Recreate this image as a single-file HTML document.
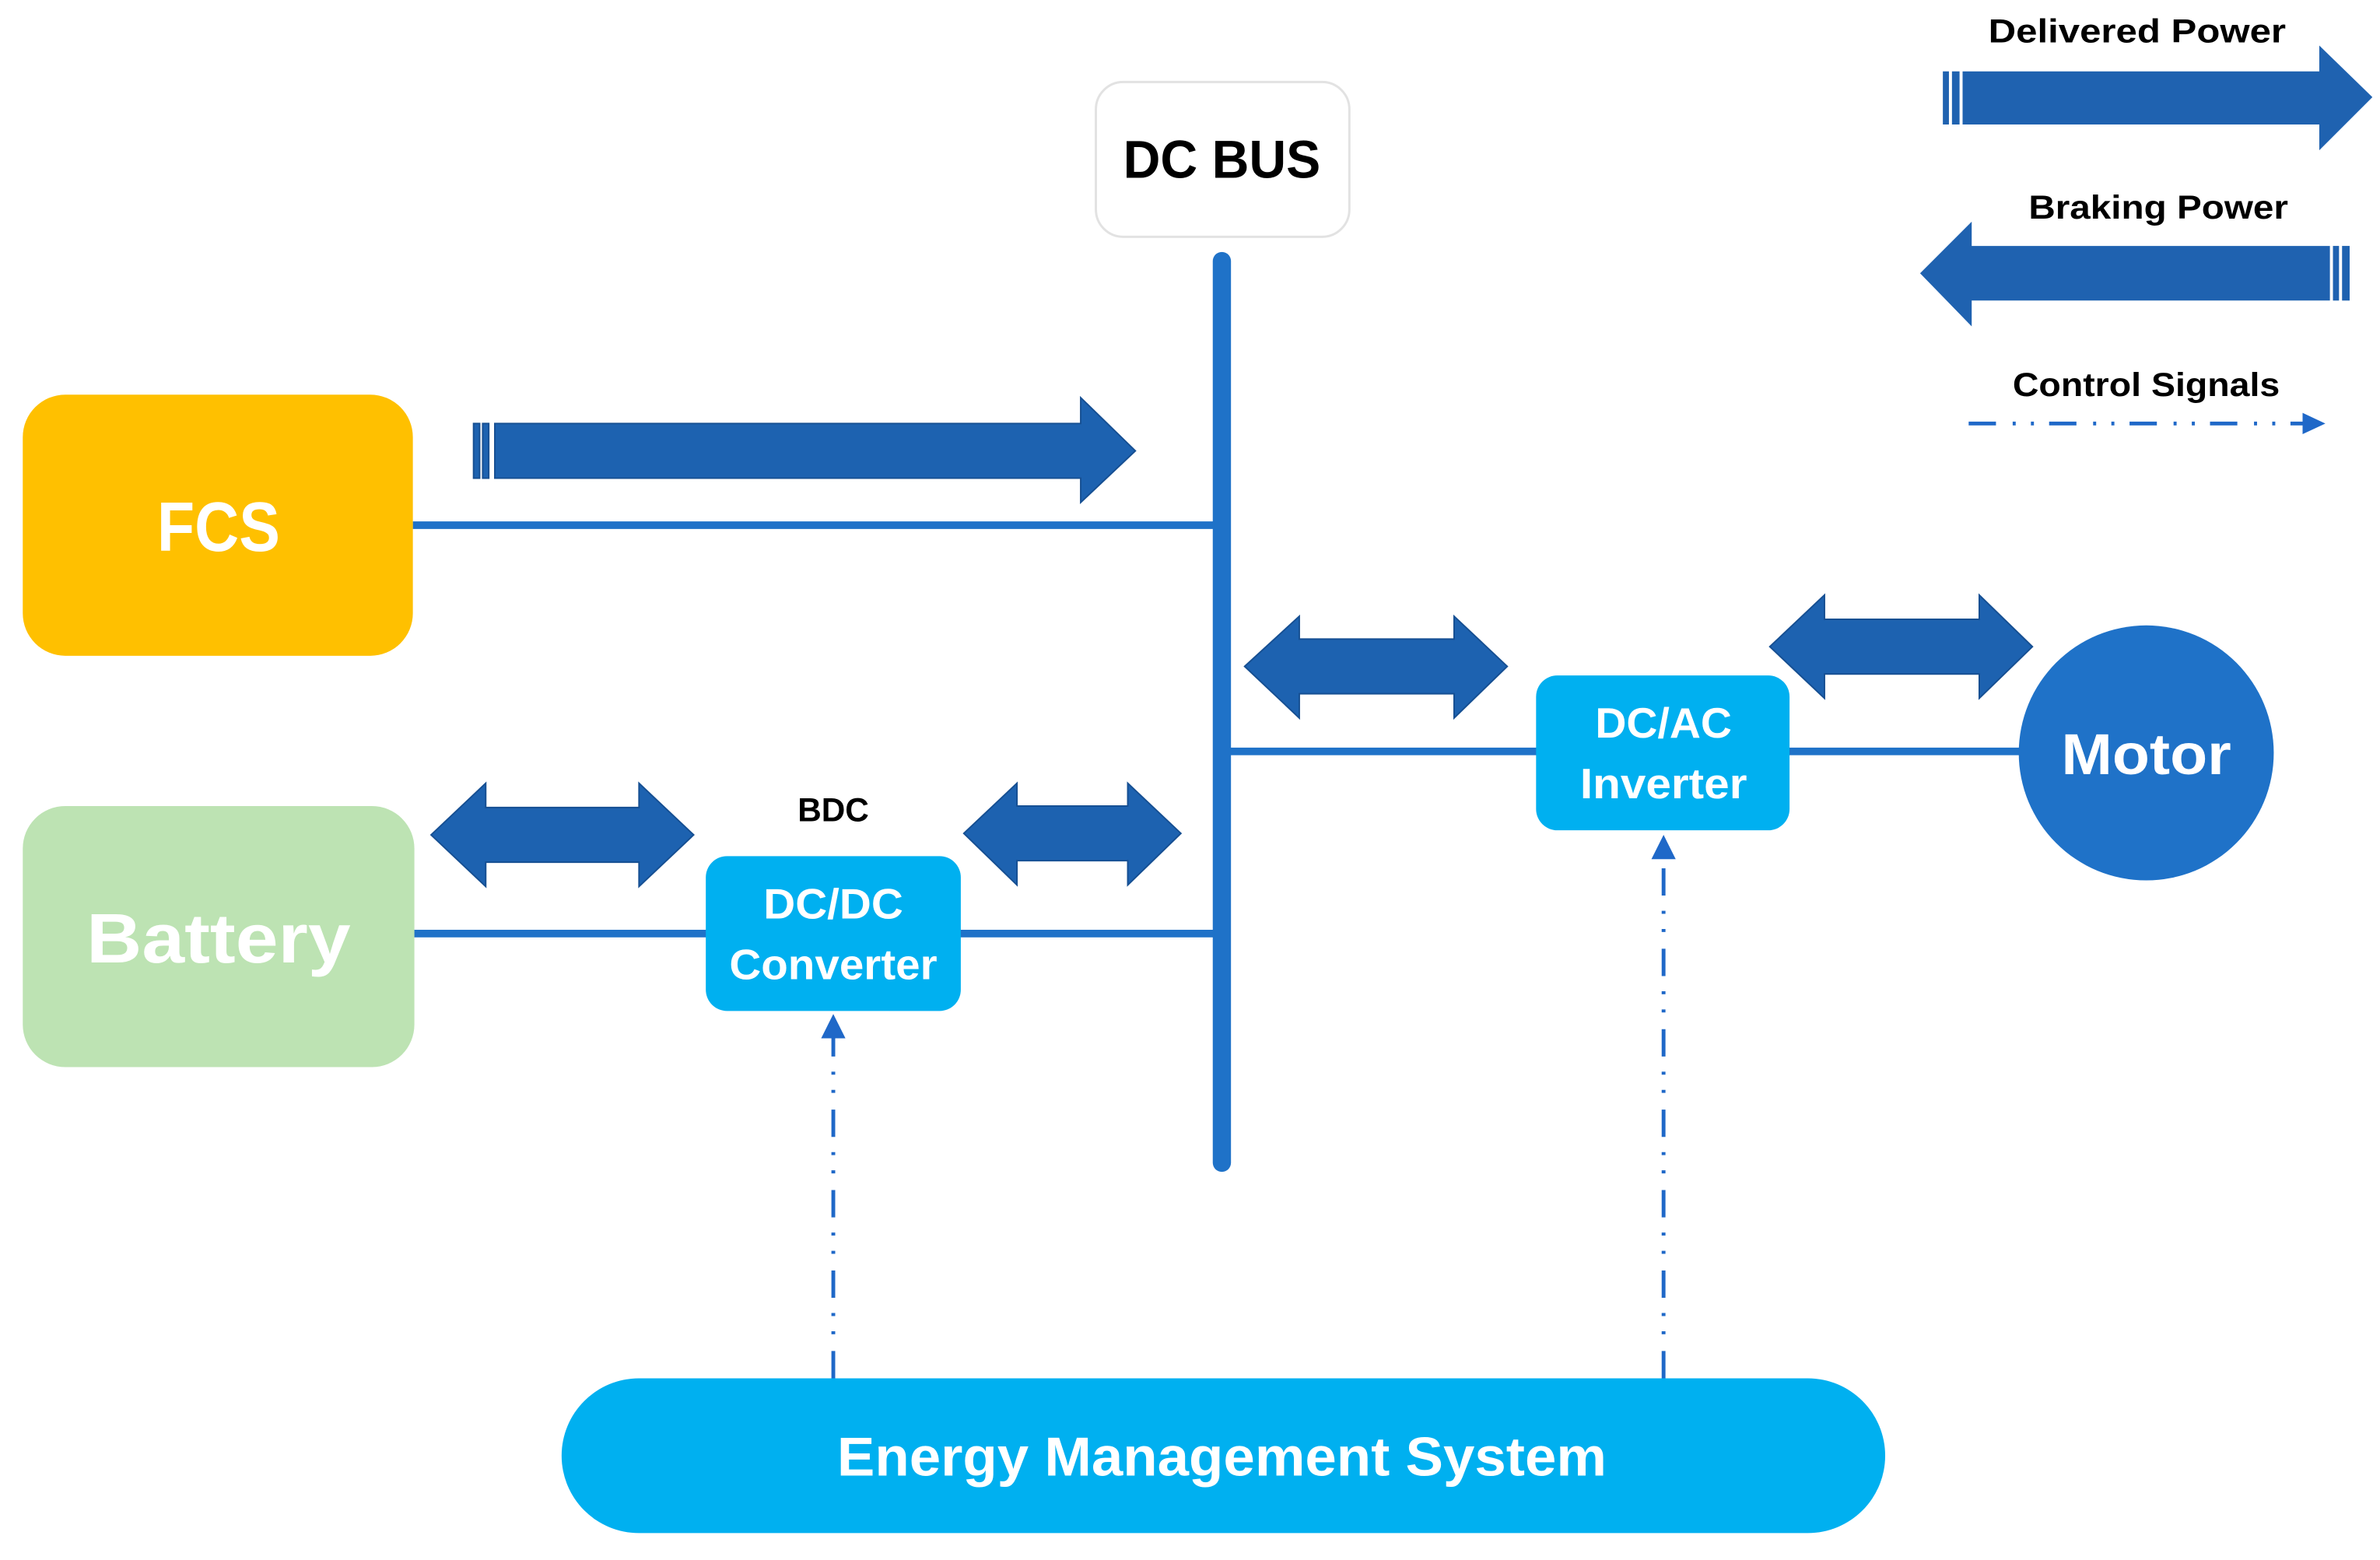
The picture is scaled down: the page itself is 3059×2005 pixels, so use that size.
<!DOCTYPE html>
<html><head><meta charset="utf-8"><style>
html,body{margin:0;padding:0;background:#fff;}
svg{display:block;}
text{font-family:"Liberation Sans",sans-serif;font-weight:bold;}
</style></head><body>
<svg width="3059" height="2005" viewBox="0 0 1568 1027.7" xmlns="http://www.w3.org/2000/svg">
<rect width="1568" height="1028" fill="#fff"/>
<!-- DC BUS -->
<rect x="722" y="54" width="167" height="102" rx="18" fill="#fff" stroke="#e2e2e2" stroke-width="1.5"/>
<text x="805" y="117" font-size="35" text-anchor="middle" fill="#000" textLength="130" lengthAdjust="spacingAndGlyphs">DC BUS</text>
<!-- bus -->
<line x1="805" y1="172" x2="805" y2="766" stroke="#1f72c8" stroke-width="12" stroke-linecap="round"/>
<!-- lines -->
<line x1="272" y1="346" x2="800" y2="346" stroke="#1f72c8" stroke-width="5"/>
<line x1="272" y1="615" x2="800" y2="615" stroke="#1f72c8" stroke-width="5"/>
<line x1="810" y1="495" x2="1335" y2="495" stroke="#1f72c8" stroke-width="5"/>
<!-- FCS -->
<rect x="15" y="260" width="257" height="172" rx="28" fill="#ffc000"/>
<text x="144" y="363" font-size="46" text-anchor="middle" fill="#fff" textLength="81" lengthAdjust="spacingAndGlyphs">FCS</text>
<!-- Battery -->
<rect x="15" y="531" width="258" height="172" rx="28" fill="#bde3b3"/>
<text x="144" y="634" font-size="46" text-anchor="middle" fill="#fff" textLength="174" lengthAdjust="spacingAndGlyphs">Battery</text>
<!-- BDC -->
<text x="549" y="541" font-size="22" text-anchor="middle" fill="#000" textLength="47" lengthAdjust="spacingAndGlyphs">BDC</text>
<rect x="465" y="564" width="168" height="102" rx="14" fill="#00b0f0"/>
<text x="549" y="605" font-size="28" text-anchor="middle" fill="#fff" textLength="92" lengthAdjust="spacingAndGlyphs">DC/DC</text>
<text x="549" y="645" font-size="28" text-anchor="middle" fill="#fff" textLength="137" lengthAdjust="spacingAndGlyphs">Converter</text>
<!-- inverter -->
<rect x="1012" y="445" width="167" height="102" rx="14" fill="#00b0f0"/>
<text x="1096" y="486" font-size="28" text-anchor="middle" fill="#fff" textLength="90" lengthAdjust="spacingAndGlyphs">DC/AC</text>
<text x="1096" y="526" font-size="28" text-anchor="middle" fill="#fff" textLength="110" lengthAdjust="spacingAndGlyphs">Inverter</text>
<!-- motor -->
<circle cx="1414" cy="496" r="84" fill="#1f72c8"/>
<text x="1414" y="510" font-size="38" text-anchor="middle" fill="#fff" textLength="112" lengthAdjust="spacingAndGlyphs">Motor</text>
<!-- EMS -->
<rect x="370" y="908" width="872" height="102" rx="51" fill="#00b0f0"/>
<text x="805" y="972" font-size="36" text-anchor="middle" fill="#fff" textLength="507" lengthAdjust="spacingAndGlyphs">Energy Management System</text>
<!-- FCS arrow -->
<g fill="#1d62b0" stroke="#164f92" stroke-width="1">
<rect x="312" y="279" width="4" height="36"/>
<rect x="318" y="279" width="4" height="36"/>
<polygon points="326,279 712,279 712,262 748,297 712,331 712,315 326,315"/>
</g>
<!-- double arrows -->
<g fill="#1d62b0" stroke="#164f92" stroke-width="1">
<polygon points="284,550 320,516 320,532 421,532 421,516 457,550 421,584 421,568 320,568 320,584"/>
<polygon points="635,549 670,516 670,531 743,531 743,516 778,549 743,583 743,567 670,567 670,583"/>
<polygon points="820,439 856,406 856,421 958,421 958,406 993,439 958,473 958,457 856,457 856,473"/>
<polygon points="1166,426 1202,392 1202,408 1304,408 1304,392 1339,426 1304,460 1304,444 1202,444 1202,460"/>
</g>
<!-- control signals -->
<g stroke="#1f68c8" stroke-width="2.5" fill="none" stroke-dasharray="18 11 2 10 2 10">
<line x1="549" y1="908" x2="549" y2="684"/>
<line x1="1096" y1="908" x2="1096" y2="566"/>
<line x1="1297" y1="279" x2="1518" y2="279"/>
</g>
<g fill="#1f68c8">
<polygon points="549,668 541,684 557,684"/>
<polygon points="1096,550 1088,566 1104,566"/>
<polygon points="1532,279 1517,272 1517,286"/>
</g>
<!-- legend -->
<text x="1408" y="28" font-size="22" text-anchor="middle" fill="#000" textLength="196" lengthAdjust="spacingAndGlyphs">Delivered Power</text>
<g fill="#1f62b0">
<rect x="1280" y="47" width="4" height="35"/>
<rect x="1286" y="47" width="5" height="35"/>
<polygon points="1293,47 1528,47 1528,30 1563,64 1528,99 1528,82 1293,82"/>
</g>
<text x="1422" y="144" font-size="22" text-anchor="middle" fill="#000" textLength="171" lengthAdjust="spacingAndGlyphs">Braking Power</text>
<g fill="#1f62b0">
<polygon points="1265,180 1299,146 1299,162 1535,162 1535,198 1299,198 1299,215"/>
<rect x="1537" y="162" width="4" height="36"/>
<rect x="1543" y="162" width="5" height="36"/>
</g>
<text x="1414" y="261" font-size="22" text-anchor="middle" fill="#000" textLength="176" lengthAdjust="spacingAndGlyphs">Control Signals</text>
</svg>
</body></html>
